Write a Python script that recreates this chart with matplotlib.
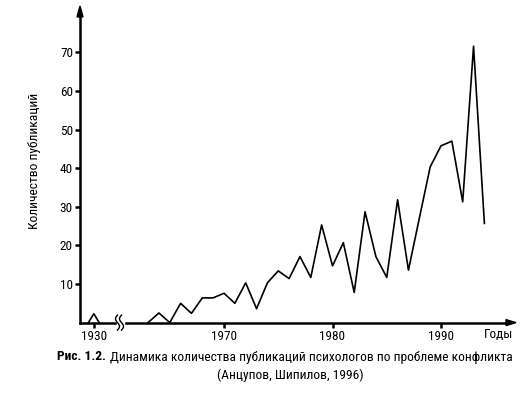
import matplotlib
matplotlib.use("Agg")
import matplotlib.pyplot as plt
import numpy as np
from matplotlib import font_manager
from matplotlib.patches import Polygon

# pick a narrow font if we have one
names = set(f.name for f in font_manager.fontManager.ttflist)
fam = 'DejaVu Sans'
for cand in ['Liberation Sans Narrow', 'Roboto Condensed', 'DejaVu Sans']:
    if cand in names:
        fam = cand
        break
plt.rcParams['font.family'] = [fam, 'DejaVu Sans']

# data
early_years = [1929.5, 1930, 1930.5]
early_counts = [0, 2.3, 0]
years = list(range(1963, 1995))
counts = [0, 2.5, 0, 5, 2.4, 6.4, 6.4, 7.6, 5, 10.3, 3.6, 10.3, 13.4, 11.4,
          17.1, 11.7, 25.3, 14.7, 20.7, 7.8, 28.7, 17.1, 11.7, 31.8, 13.6,
          27, 40.3, 45.8, 47, 31.3, 71.6, 25.7]
x_ticks = [1930, 1970, 1980, 1990]
y_ticks = [10, 20, 30, 40, 50, 60, 70]
shift = 28  # years before the axis break are drawn shifted right

W, H = 525, 394
x0, x1, y0, y1 = 80, 508, 322.6, 14   # axes box in pixels
fig = plt.figure(figsize=(W / 100, H / 100), dpi=100)
ax = fig.add_axes([x0 / W, (H - y0) / H, (x1 - x0) / W, (y0 - y1) / H])

ax.plot(np.array(early_years) + shift, early_counts, color='black', lw=1.2)
ax.plot(years, counts, color='black', lw=1.2)

px_per_year = 10.85
ax.set_xlim(1970 + (x0 - 224) / px_per_year, 1970 + (x1 - 224) / px_per_year)
ax.set_ylim(0, (y0 - y1) / 3.86)
for s in ['top', 'right']:
    ax.spines[s].set_visible(False)
for s in ['left', 'bottom']:
    ax.spines[s].set_linewidth(1.8)

ax.set_xticks([t + shift if t < 1960 else t for t in x_ticks])
ax.set_xticklabels([str(t) for t in x_ticks])
ax.set_yticks(y_ticks)
ax.tick_params(axis='both', direction='out', length=3.6, width=1.8, labelsize=9.5, pad=1.5)

# arrow heads (figure pixel fractions)
def pf(px, py):
    return (px / W, (H - py) / H)

fig.patches.append(Polygon([pf(506, y0 - 3), pf(516, y0), pf(506, y0 + 3)],
                           closed=True, color='black', transform=fig.transFigure))
fig.patches.append(Polygon([pf(x0 - 3, 17), pf(x0, 6), pf(x0 + 3, 17)],
                           closed=True, color='black', transform=fig.transFigure))

# axis break mark
tt = np.linspace(-1, 1, 60)
by = (H - y0) + tt * 7.5
ax.fill_between([116.5 / W, 123.5 / W], (H - y0 - 2) / H, (H - y0 + 2) / H,
                color='white', transform=fig.transFigure, clip_on=False, zorder=5)
for dx in [117.5, 121.5]:
    bx = dx - 2.0 * np.sin(tt * np.pi)
    ax.plot(bx / W, by / H, color='black', lw=1.0, transform=fig.transFigure,
            clip_on=False, zorder=6)

fig.text(484 / W, (H - 334) / H, 'Годы', fontsize=9.5, ha='left', va='center')
fig.text(35 / W, (H - 161) / H, 'Количество публикаций', fontsize=9.7,
         rotation=90, ha='center', va='center')

# caption
t1 = fig.text(57 / W, (H - 357) / H, 'Рис. 1.2.', fontsize=9.7, fontweight='bold',
              ha='left', va='center')
fig.canvas.draw()
bb = t1.get_window_extent()
fig.text((bb.x1 + 4) / W, (H - 357) / H,
         'Динамика количества публикаций психологов по проблеме конфликта',
         fontsize=9.7, ha='left', va='center')
fig.text(290 / W, (H - 375) / H, '(Анцупов, Шипилов, 1996)', fontsize=9.7,
         ha='center', va='center')

fig.savefig('out.png', dpi=100)
